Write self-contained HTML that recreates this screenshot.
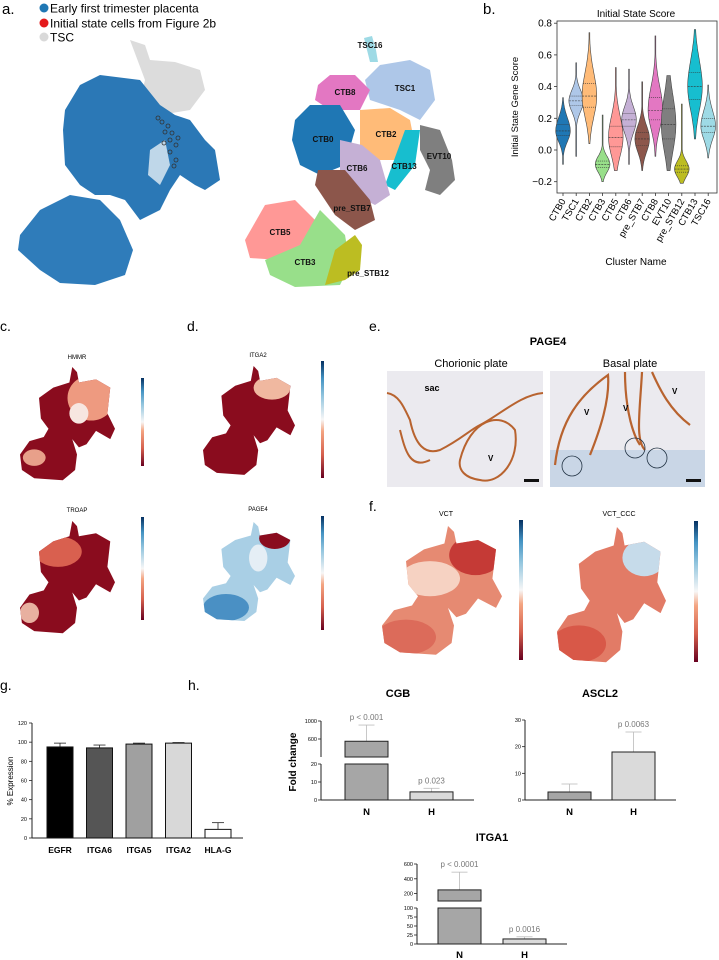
<!DOCTYPE html>
<html><head><meta charset="utf-8">
<style>
html,body{margin:0;padding:0;background:#fff;}
svg{display:block;font-family:"Liberation Sans",sans-serif;}
</style></head>
<body>
<svg id="fig" width="719" height="960" viewBox="0 0 719 960" xmlns="http://www.w3.org/2000/svg">
<defs>
  <linearGradient id="rdbu" x1="0" y1="1" x2="0" y2="0">
    <stop offset="0" stop-color="#67001f"/><stop offset="0.2" stop-color="#d6604d"/>
    <stop offset="0.4" stop-color="#f4a582"/><stop offset="0.5" stop-color="#f7f7f7"/>
    <stop offset="0.7" stop-color="#92c5de"/><stop offset="0.85" stop-color="#4393c3"/>
    <stop offset="1" stop-color="#053061"/>
  </linearGradient>
  <path id="fshape" d="M55,0 L60,5 L62,15 L80,12 L95,20 L92,45 L100,60 L95,70 L80,62 L70,75 L62,78 L55,70 L60,85 L58,100 L45,110 L15,108 L2,100 L0,85 L10,72 L25,68 L30,60 L22,50 L20,30 L35,20 L52,15 Z"/>
  <clipPath id="fclip"><use href="#fshape"/></clipPath>
</defs>

<!-- Panel a -->
<g>
  <text x="2" y="14" font-size="15">a.</text>
  <circle cx="44" cy="8" r="4.5" fill="#1f77b4"/><text x="50" y="12.5" font-size="12">Early first trimester placenta</text>
  <circle cx="44" cy="23" r="4.5" fill="#e41a1c"/><text x="50" y="27.5" font-size="12">Initial state cells from Figure 2b</text>
  <circle cx="44" cy="37" r="4.5" fill="#d9d9d9"/><text x="50" y="41.5" font-size="12">TSC</text>
  <g>
    <polygon fill="#dcdcdc" points="130,40 145,45 150,60 175,62 200,70 205,90 190,110 160,115 140,100 145,80"/>
    <polygon fill="#2b78b6" points="65,110 80,85 100,75 140,80 160,105 175,115 190,120 205,140 215,150 220,180 205,190 195,185 180,175 170,190 160,210 140,220 125,200 110,195 95,195 80,185 65,165 63,130"/>
    <polygon fill="#2f7cba" points="20,235 40,210 70,195 100,200 120,220 133,250 125,275 95,285 60,283 40,270 18,250"/>
    <polygon fill="#fff" opacity="0.7" points="150,150 165,140 170,165 160,185 148,175"/>
    <g fill="none" stroke="#333" stroke-width="0.8">
      <circle cx="158" cy="118" r="2"/><circle cx="162" cy="122" r="2"/><circle cx="168" cy="126" r="2"/><circle cx="165" cy="132" r="2"/><circle cx="172" cy="133" r="2"/><circle cx="178" cy="138" r="2"/><circle cx="170" cy="140" r="2"/><circle cx="164" cy="143" r="2"/><circle cx="176" cy="145" r="2"/><circle cx="170" cy="152" r="2"/><circle cx="176" cy="160" r="2"/><circle cx="174" cy="166" r="2"/>
    </g>
  </g>
  <g>
    <polygon fill="#aec7e8" points="365,80 380,65 410,60 430,70 435,100 420,120 400,110 370,100"/>
    <polygon fill="#9edae5" points="364,38 372,36 376,50 378,62 370,62"/>
    <polygon fill="#e377c2" points="318,85 330,75 355,75 370,90 360,110 330,110 315,100"/>
    <polygon fill="#1f77b4" points="295,120 310,105 340,105 355,130 345,165 320,175 300,165 292,140"/>
    <polygon fill="#ffbb78" points="360,110 390,108 410,120 415,145 400,160 375,160 360,145"/>
    <polygon fill="#7f7f7f" points="420,125 440,130 452,160 455,180 440,195 425,190 430,170 420,150"/>
    <polygon fill="#17becf" points="405,130 420,130 415,165 395,190 385,185"/>
    <polygon fill="#c5b0d5" points="340,140 362,145 380,160 390,195 375,205 355,195 340,170"/>
    <polygon fill="#8c564b" points="318,170 345,170 370,200 375,220 355,230 335,215 315,185"/>
    <polygon fill="#ff9896" points="245,240 265,205 295,200 315,220 310,255 280,260 250,258"/>
    <polygon fill="#98df8a" points="265,260 300,245 320,210 345,235 350,265 340,285 295,287 270,275"/>
    <polygon fill="#bcbd22" points="335,250 355,235 362,245 360,270 345,280 325,285"/>
    <g font-size="8" font-weight="bold" fill="#111" text-anchor="middle">
      <text x="370" y="48">TSC16</text>
      <text x="405" y="91">TSC1</text>
      <text x="345" y="95">CTB8</text>
      <text x="323" y="142">CTB0</text>
      <text x="386" y="137">CTB2</text>
      <text x="439" y="159">EVT10</text>
      <text x="404" y="169">CTB13</text>
      <text x="357" y="171">CTB6</text>
      <text x="352" y="211">pre_STB7</text>
      <text x="280" y="235">CTB5</text>
      <text x="305" y="265">CTB3</text>
      <text x="368" y="276">pre_STB12</text>
    </g>
  </g>
</g>

<!-- Panel b -->
<g id="panelb">
  <text x="483" y="14" font-size="15">b.</text>
  <text x="636" y="17" font-size="10" text-anchor="middle">Initial State Score</text>
  <rect x="557" y="21" width="160" height="172" fill="none" stroke="#333" stroke-width="0.8"/>
  <text x="0" y="0" font-size="9.5" text-anchor="middle" transform="translate(518,107) rotate(-90)">Initial State Gene Score</text>
  <text x="636" y="265" font-size="10" text-anchor="middle">Cluster Name</text>
</g>

<!-- Panel c & d -->
<g>
  <text x="0" y="331" font-size="14">c.</text>
  <text x="77" y="359" font-size="6" text-anchor="middle">HMMR</text>
  <g transform="translate(20,367) scale(0.95,1.03)">
    <use href="#fshape" fill="#8a0c1e"/>
    <g clip-path="url(#fclip)"><ellipse cx="75" cy="30" rx="25" ry="22" fill="#ee9a80"/><ellipse cx="62" cy="45" rx="10" ry="10" fill="#f7e6e0"/><ellipse cx="15" cy="88" rx="12" ry="8" fill="#e8a08a"/></g>
  </g>
  <rect x="141" y="378" width="3" height="88" fill="url(#rdbu)"/>
  <text x="77" y="512" font-size="6" text-anchor="middle">TROAP</text>
  <g transform="translate(20,521) scale(0.95,1.02)">
    <use href="#fshape" fill="#8a0c1e"/>
    <g clip-path="url(#fclip)"><ellipse cx="40" cy="30" rx="25" ry="15" fill="#d9604f"/><ellipse cx="10" cy="90" rx="10" ry="10" fill="#e8b0a0"/></g>
  </g>
  <rect x="141" y="517" width="3" height="103" fill="url(#rdbu)"/>
</g>
<g>
  <text x="187" y="331" font-size="14">d.</text>
  <text x="258" y="357" font-size="6" text-anchor="middle">ITGA2</text>
  <g transform="translate(203,366) scale(0.92,0.99)">
    <use href="#fshape" fill="#8a0c1e"/>
    <g clip-path="url(#fclip)"><ellipse cx="75" cy="22" rx="20" ry="12" fill="#f0b8a0"/></g>
  </g>
  <rect x="321" y="361" width="3" height="117" fill="url(#rdbu)"/>
  <text x="258" y="511" font-size="6" text-anchor="middle">PAGE4</text>
  <g transform="translate(203,522) scale(0.92,0.9)">
    <use href="#fshape" fill="#a9cfe5"/>
    <g clip-path="url(#fclip)"><ellipse cx="78" cy="18" rx="17" ry="12" fill="#8a0c1e"/><ellipse cx="25" cy="95" rx="25" ry="15" fill="#4a90c4"/><ellipse cx="60" cy="40" rx="10" ry="15" fill="#e5eef5"/></g>
  </g>
  <rect x="321" y="516" width="3" height="114" fill="url(#rdbu)"/>
</g>

<!-- Panel e -->
<g>
  <text x="369" y="331" font-size="14">e.</text>
  <text x="548" y="345" font-size="11" font-weight="bold" text-anchor="middle">PAGE4</text>
  <text x="471" y="367" font-size="11" text-anchor="middle">Chorionic plate</text>
  <text x="630" y="367" font-size="11" text-anchor="middle">Basal plate</text>
  <g>
    <rect x="387" y="371" width="156" height="116" fill="#ebeaef"/>
    <path d="M387,393 C400,395 405,410 410,420 C415,445 425,455 440,450 C460,440 470,430 480,425 C500,415 520,395 543,393" fill="none" stroke="#b8632f" stroke-width="2"/>
    <path d="M400,430 C405,450 410,470 430,460 M460,460 C470,420 500,410 515,430 C520,460 500,485 480,480 C465,478 458,470 460,460" fill="none" stroke="#b8632f" stroke-width="2"/>
    <text x="432" y="391" font-size="9" font-weight="bold" text-anchor="middle">sac</text>
    <text x="488" y="461" font-size="8" font-weight="bold">V</text>
    <rect x="524" y="479" width="15" height="3" fill="#111"/>
  </g>
  <g>
    <rect x="550" y="371" width="155" height="116" fill="#ebeaef"/>
    <rect x="550" y="450" width="155" height="37" fill="#c9d6e6"/>
    <path d="M555,465 C560,420 580,395 608,375 C610,400 600,430 590,455 M625,372 C625,400 630,430 640,445 M652,372 C660,390 670,410 690,425 M642,372 C640,410 635,440 645,450" fill="none" stroke="#b8632f" stroke-width="2.2"/>
    <circle cx="572" cy="466" r="10" fill="none" stroke="#234" stroke-width="0.8"/>
    <circle cx="635" cy="448" r="10" fill="none" stroke="#234" stroke-width="0.8"/>
    <circle cx="657" cy="458" r="10" fill="none" stroke="#234" stroke-width="0.8"/>
    <text x="584" y="415" font-size="8" font-weight="bold">V</text><text x="623" y="411" font-size="8" font-weight="bold">V</text><text x="672" y="394" font-size="8" font-weight="bold">V</text>
    <rect x="686" y="479" width="15" height="3" fill="#111"/>
  </g>
</g>

<!-- Panel f -->
<g>
  <text x="369" y="511" font-size="14">f.</text>
  <text x="446" y="516" font-size="7" text-anchor="middle">VCT</text>
  <g transform="translate(382,526) scale(1.2,1.17)">
    <use href="#fshape" fill="#e68a72"/>
    <g clip-path="url(#fclip)"><ellipse cx="78" cy="25" rx="22" ry="17" fill="#c53a36"/><ellipse cx="40" cy="45" rx="25" ry="15" fill="#f6d2c2"/><ellipse cx="20" cy="95" rx="25" ry="15" fill="#dc6b5a"/></g>
  </g>
  <rect x="519" y="520" width="4" height="140" fill="url(#rdbu)"/>
  <text x="619" y="516" font-size="7" text-anchor="middle">VCT_CCC</text>
  <g transform="translate(557,527) scale(1.09,1.23)">
    <use href="#fshape" fill="#e27b66"/>
    <g clip-path="url(#fclip)"><ellipse cx="80" cy="25" rx="20" ry="15" fill="#c6dbea"/><ellipse cx="20" cy="95" rx="25" ry="15" fill="#d85848"/></g>
  </g>
  <rect x="694" y="521" width="4" height="141" fill="url(#rdbu)"/>
</g>

<!-- Panel g & h -->
<g id="panelg">
  <text x="0" y="690" font-size="14">g.</text>
  <text x="0" y="0" font-size="8" text-anchor="middle" transform="translate(13,781) rotate(-90)">% Expression</text>
</g>
<g id="panelh">
  <text x="188" y="690" font-size="14">h.</text>
  <text x="0" y="0" font-size="10" font-weight="bold" text-anchor="middle" transform="translate(296,762) rotate(-90)">Fold change</text>
</g>
</svg>
<script>
// ---- Panel b data ----
const vCats = ['CTB0','TSC1','CTB2','CTB3','CTB5','CTB6','pre_STB7','CTB8','EVT10','pre_STB12','CTB13','TSC16'];
const vMed = [0.12,0.31,0.34,-0.09,0.08,0.19,0.07,0.25,0.16,-0.12,0.40,0.15];
const vQ1 = [0.09,0.28,0.27,-0.11,0.02,0.15,0.03,0.19,0.07,-0.14,0.32,0.11];
const vQ3 = [0.16,0.34,0.42,-0.07,0.15,0.23,0.11,0.33,0.26,-0.10,0.49,0.20];
const vMin = [-0.09,-0.04,0.04,-0.20,-0.13,-0.09,-0.13,-0.04,-0.13,-0.21,0.07,-0.05];
const vMax = [0.33,0.55,0.74,0.22,0.52,0.51,0.43,0.72,0.47,0.29,0.76,0.41];
const vColors = ['#1f77b4','#aec7e8','#ffbb78','#98df8a','#ff9896','#c5b0d5','#8c564b','#e377c2','#7f7f7f','#bcbd22','#17becf','#9edae5'];
const vTicks = [-0.2,0.0,0.2,0.4,0.6,0.8];

// ---- Panel g data ----
const gCats = ['EGFR','ITGA6','ITGA5','ITGA2','HLA-G'];
const gVals = [95,94,98,99,9];
const gErr = [4,3,1,0.6,7];
const gColors = ['#000','#555','#a0a0a0','#d8d8d8','#fff'];
const gTicks = [0,20,40,60,80,100,120];

// ---- Panel h data ----
const hGroups = ['N','H'];
const cgbVals = [550,4.5];
const cgbErr = [910,6.5];
const cgbP = ['p < 0.001','p 0.023'];
const ascl2Vals = [3,18];
const ascl2Err = [6,25.5];
const ascl2P = ['','p 0.0063'];
const itga1Vals = [250,14];
const itga1Err = [490,20];
const itga1P = ['p < 0.0001','p 0.0016'];

const NS='http://www.w3.org/2000/svg';
function mk(tag, attrs, parent, txt){const e=document.createElementNS(NS,tag);for(const k in attrs)e.setAttribute(k,attrs[k]);if(txt!==undefined)e.textContent=txt;parent.appendChild(e);return e;}

// Panel b
(function(){
  const g=document.getElementById('panelb');
  const y=v=>150-v*158.5;
  const x=i=>563+i*13.2;
  vTicks.forEach(t=>{
    const l=mk('line',{x1:554,x2:557,y1:y(t),y2:y(t),stroke:'#333','stroke-width':0.8},g);
    
    const tx=mk('text',{x:552,y:y(t)+3.5,'font-size':10,'text-anchor':'end'},g,(t<0?'\u2212':'')+Math.abs(t).toFixed(1));
    
  });
  vCats.forEach((c,i)=>{
    const cx=x(i),hw=7.3;
    const sL=(vMed[i]-vQ1[i])*2.3+0.025, sU=(vQ3[i]-vMed[i])*2.3+0.025;
    let left=[],right=[];
    for(let k=0;k<=40;k++){
      const v=vMin[i]+(vMax[i]-vMin[i])*k/40;
      const s=v<vMed[i]?sL:sU;
      const w=Math.max(0.4,hw*Math.exp(-Math.pow((v-vMed[i])/s,2)));
      right.push((cx+w).toFixed(1)+','+y(v).toFixed(1));
      left.unshift((cx-w).toFixed(1)+','+y(v).toFixed(1));
    }
    const p=mk('polygon',{points:right.concat(left).join(' '),fill:vColors[i],stroke:'#444','stroke-width':0.6},g);
    
    
    [vQ1[i],vMed[i],vQ3[i]].forEach((q,j)=>{
      const s=q<vMed[i]?sL:sU;const w=hw*Math.exp(-Math.pow((q-vMed[i])/s,2));
      const l=mk('line',{x1:cx-w,x2:cx+w,y1:y(q),y2:y(q),stroke:'#333','stroke-width':0.6,'stroke-dasharray':j==1?'2,1':'1,1'},g);
      
    });
    const tk=mk('line',{x1:cx,x2:cx,y1:193,y2:196,stroke:'#333','stroke-width':0.8},g);
    
    const t=mk('text',{x:0,y:0,'font-size':9.5,'text-anchor':'end',transform:`translate(${cx+3},${201}) rotate(-60)`},g,c);
    
  });
})();

// Panel g
(function(){
  const g=document.getElementById('panelg');
  const y=v=>838-v*(115/120);
  const x=i=>60+i*39.5;
  mk('line',{x1:32,x2:32,y1:y(120),y2:838,stroke:'#222','stroke-width':1},g);
  mk('line',{x1:32,x2:243,y1:838,y2:838,stroke:'#222','stroke-width':1},g);
  gTicks.forEach(t=>{
    mk('line',{x1:29,x2:32,y1:y(t),y2:y(t),stroke:'#222','stroke-width':0.8},g);
    const tx=mk('text',{x:27,y:y(t)+2,'font-size':5.5,'text-anchor':'end'},g,t);
    
  });
  gCats.forEach((c,i)=>{
    const cx=x(i);
    mk('line',{x1:cx,x2:cx,y1:y(gVals[i]),y2:y(gVals[i]+gErr[i]),stroke:'#222','stroke-width':0.8},g);
    mk('line',{x1:cx-6,x2:cx+6,y1:y(gVals[i]+gErr[i]),y2:y(gVals[i]+gErr[i]),stroke:'#222','stroke-width':0.8},g);
    const r=mk('rect',{x:cx-13,y:y(gVals[i]),width:26,height:838-y(gVals[i]),fill:gColors[i],stroke:'#111','stroke-width':1},g);
    
    const t=mk('text',{x:cx,y:853,'font-size':8.5,'font-weight':'bold','text-anchor':'middle'},g,c);
    
  });
})();

// Panel h
function hChart(title, tx, ty, axX, axEnd, barX, segs, ticks, vals, errs, ps, labY){
  const g=document.getElementById('panelh');
  const grp=mk('g',{},g);
  
  
  const t=mk('text',{x:tx,y:ty,'font-size':11,'font-weight':'bold','text-anchor':'middle'},grp,title);
  
  const Y=v=>{for(const s of segs){if(v<=s.hi)return s.y0-(Math.max(v,s.lo)-s.lo)/(s.hi-s.lo)*(s.y0-s.y1);}const s=segs[segs.length-1];return s.y1;};
  segs.forEach(s=>mk('line',{x1:axX,x2:axX,y1:s.y0,y2:s.y1,stroke:'#222','stroke-width':1},grp));
  mk('line',{x1:axX,x2:axEnd,y1:segs[0].y0,y2:segs[0].y0,stroke:'#222','stroke-width':1},grp);
  ticks.forEach(tv=>{
    mk('line',{x1:axX-3,x2:axX,y1:Y(tv),y2:Y(tv),stroke:'#222','stroke-width':0.8},grp);
    const l=mk('text',{x:axX-4,y:Y(tv)+2,'font-size':5.5,'text-anchor':'end'},grp,tv);
    
  });
  hGroups.forEach((gname,i)=>{
    const bx=barX[i],w=43,cx=bx+w/2;
    mk('line',{x1:cx,x2:cx,y1:Y(vals[i]),y2:Y(errs[i]),stroke:'#bbb','stroke-width':0.8},grp);
    mk('line',{x1:cx-8,x2:cx+8,y1:Y(errs[i]),y2:Y(errs[i]),stroke:'#bbb','stroke-width':0.8},grp);
    const fill=i==0?'#a6a6a6':'#dadada';
    segs.forEach(s=>{
      if(vals[i]<=s.lo)return;
      const top=Y(Math.min(vals[i],s.hi));
      const r=mk('rect',{x:bx,y:top,width:w,height:s.y0-top,fill:fill,stroke:'#222','stroke-width':1},grp);
      
      
    });
    if(ps[i]){const p=mk('text',{x:cx,y:Y(errs[i])-5,'font-size':8,fill:'#777','text-anchor':'middle'},grp,ps[i]);
      }
    const l=mk('text',{x:cx,y:labY,'font-size':9.5,'font-weight':'bold','text-anchor':'middle'},grp,gname);
    
  });
}
hChart('CGB',398,697,321,474,[345,410],[{lo:0,hi:20,y0:800,y1:764},{lo:200,hi:1000,y0:757,y1:721}],[0,10,20,600,1000],cgbVals,cgbErr,cgbP,815);
hChart('ASCL2',600,697,525,676,[548,612],[{lo:0,hi:30,y0:800,y1:720}],[0,10,20,30],ascl2Vals,ascl2Err,ascl2P,815);
hChart('ITGA1',492,841,417,567,[438,503],[{lo:0,hi:100,y0:944,y1:908},{lo:100,hi:600,y0:901,y1:864}],[0,25,50,75,100,200,400,600],itga1Vals,itga1Err,itga1P,958);
</script>
</body></html>
